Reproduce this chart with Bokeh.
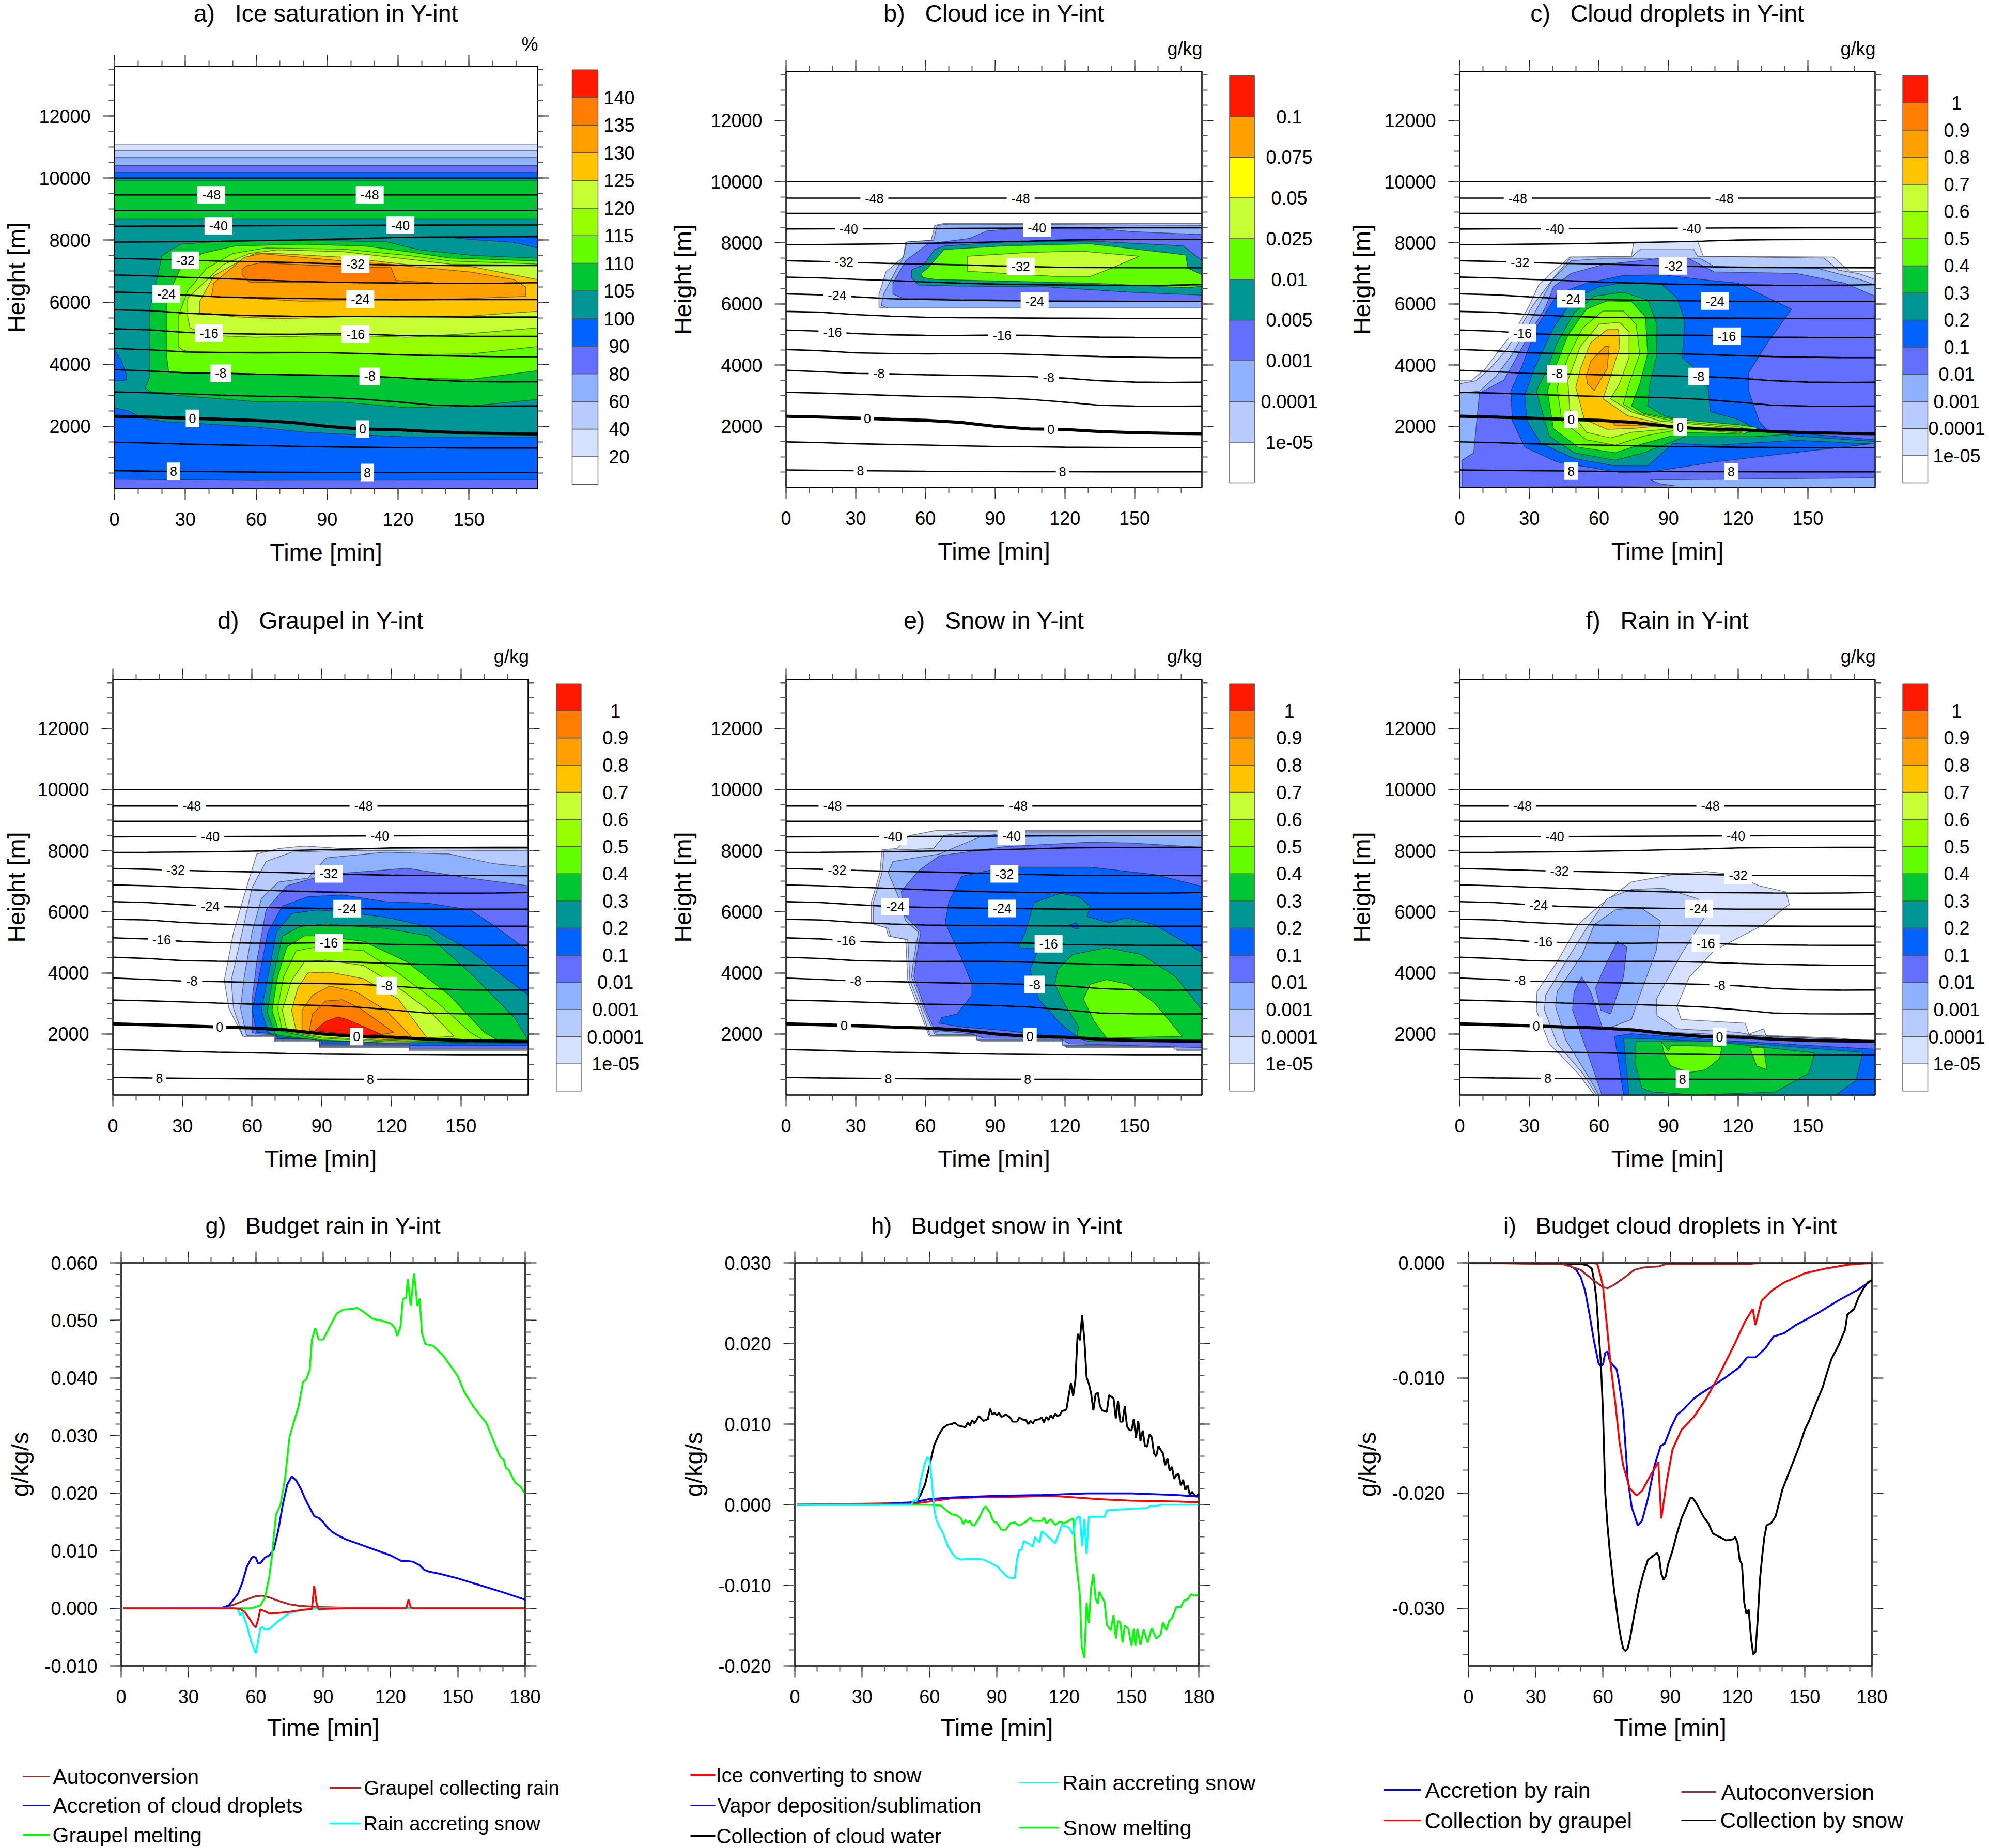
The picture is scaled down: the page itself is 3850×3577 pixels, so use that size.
from bokeh.plotting import figure
from bokeh.layouts import row, column
from bokeh.models import (Range1d, LinearAxis, FixedTicker, PrintfTickFormatter, ColumnDataSource,
                          LabelSet, CustomLabelingPolicy)
from bokeh.core.properties import value
from bokeh.embed import file_html
from bokeh.resources import INLINE
import numpy as np

FONT = "Liberation Sans"

# ------------------------------------------------------------------ colours
CMAP15 = ["#FFFFFF", "#D5E1FF", "#B8CBFF", "#8EB2FF", "#6370FF", "#0063FF", "#009696", "#00C633",
          "#63FF00", "#96FF00", "#C6FF33", "#FFC600", "#FFA000", "#FF7D00", "#FF1900"]
CMAP10 = ["#FFFFFF", "#B8CBFF", "#8EB2FF", "#6370FF", "#009696", "#63FF00", "#C6FF33", "#FFFF00",
          "#FFA000", "#FF1900"]
LEVELS_A = ["20", "40", "60", "80", "90", "100", "105", "110", "115", "120", "125", "130", "135", "140"]
LEVELS_B = ["1e-05", "0.0001", "0.001", "0.005", "0.01", "0.025", "0.05", "0.075", "0.1"]
LEVELS_Q = ["1e-05", "0.0001", "0.001", "0.01", "0.1", "0.2", "0.3", "0.4", "0.5", "0.6", "0.7", "0.8", "0.9", "1"]

# ------------------------------------------------------------------ isotherms (height in m)
ISO_T = [0, 15, 30, 45, 60, 75, 90, 105, 120, 135, 150, 165, 179]
ISO_M52 = [10000] * 13
ISO_M48 = [9460] * 13
ISO_M44 = [8960] * 13
ISO_M40 = [8450, 8455, 8455, 8460, 8465, 8470, 8475, 8480, 8485, 8488, 8490, 8490, 8490]
ISO_M36 = [7940, 7945, 7955, 7965, 7985, 8000, 8030, 8055, 8090, 8100, 8105, 8110, 8110]
ISO_M32 = [7415, 7390, 7355, 7325, 7305, 7280, 7245, 7220, 7195, 7190, 7185, 7185, 7183]
ISO_M28 = [6878, 6850, 6805, 6765, 6720, 6680, 6650, 6630, 6622, 6615, 6610, 6615, 6630]
ISO_M24 = [6330, 6300, 6232, 6170, 6145, 6125, 6110, 6100, 6085, 6085, 6085, 6085, 6085]
ISO_M20 = [5755, 5730, 5650, 5600, 5565, 5550, 5545, 5540, 5535, 5530, 5525, 5525, 5525]
ISO_M16 = [5146, 5110, 5030, 4990, 4975, 4970, 4985, 4975, 4930, 4915, 4905, 4900, 4902]
ISO_M12 = [4510, 4470, 4400, 4380, 4370, 4375, 4375, 4350, 4310, 4280, 4260, 4245, 4245]
ISO_M8 = [3830, 3785, 3730, 3715, 3685, 3665, 3650, 3625, 3575, 3490, 3445, 3435, 3440]
ISO_M4 = [3110, 3085, 3050, 3010, 2975, 2960, 2930, 2880, 2790, 2685, 2660, 2655, 2658]
ISO_0 = [2330, 2300, 2268, 2230, 2195, 2130, 2000, 1915, 1895, 1830, 1790, 1770, 1756]
ISO_P4 = [1490, 1465, 1430, 1405, 1385, 1360, 1340, 1330, 1315, 1310, 1305, 1305, 1305]
ISO_P8 = [575, 560, 550, 540, 530, 525, 520, 515, 515, 512, 512, 512, 512]
ISO_THIN = [ISO_M52, ISO_M48, ISO_M44, ISO_M40, ISO_M36, ISO_M32, ISO_M28, ISO_M24, ISO_M20, ISO_M16,
            ISO_M12, ISO_M8, ISO_M4, ISO_P4, ISO_P8]
LBL_NAMES = ["-48", "-40", "-32", "-24", "-16", "-8", "0", "8"]
LBL_ISO = [ISO_M48, ISO_M40, ISO_M32, ISO_M24, ISO_M16, ISO_M8, ISO_0, ISO_P8]
LBL_A = [(41, 108), (44, 121), (30, 102), (22, 104), (40, 102), (45, 108), (33, 105), (25, 107)]
LBL_B = [(38, 101), (27, 108), (25, 101), (22, 107), (20, 93), (40, 113), (35, 114), (32, 119)]
LBL_C = [(25, 114), (41, 100), (26, 92), (48, 110), (27, 115), (42, 103), (48, 95), (48, 117)]
LBL_D = [(34, 108), (42, 115), (27, 93), (42, 101), (21, 93), (34, 118), (46, 105), (20, 111)]
LBL_E = [(20, 100), (46, 97), (22, 94), (47, 93), (26, 113), (30, 107), (25, 105), (44, 104)]
LBL_F = [(27, 108), (41, 119), (43, 120), (34, 103), (36, 106), (26, 112), (33, 112), (38, 96)]

# ------------------------------------------------------------------ panel a: contour regions (min, m)
A_L20 = [(0, 0), (179, 0), (179, 11100), (0, 11100)]
A_L40 = [(0, 0), (179, 0), (179, 10890), (0, 10890)]
A_L60 = [(0, 0), (179, 0), (179, 10680), (0, 10680)]
A_L80 = [(0, 0), (179, 0), (179, 10410), (0, 10410)]
A_L90 = [(0, 300), (30, 280), (60, 260), (179, 270), (179, 10200), (0, 10200)]
A_L100 = [(0, 2600), (6, 2500), (12, 2260), (22, 2150), (45, 2050), (60, 1980), (80, 1820), (100, 1740),
          (125, 1660), (179, 1660), (179, 10000), (0, 10000)]
A_H1 = [(0, 4480), (3, 4100), (5, 3700), (5, 3500), (3, 3470), (0, 3470)]
A_H2 = [(144, 8070), (179, 8145), (179, 7750), (169, 7930), (151, 8020)]
A_L105A = [(0, 8690), (179, 8690), (179, 9930), (0, 9930)]
A_L105B = [(13, 3250), (15, 3600), (15, 5800), (19, 7090), (20, 7500), (28, 7870), (42, 7950), (79, 8000),
           (115, 7950), (129, 7690), (151, 7510), (179, 7420), (179, 2870), (151, 2660), (124, 2600),
           (97, 2780), (60, 2800), (33, 2960), (16, 3080)]
A_L110 = [(23, 3740), (22, 4335), (22, 6130), (28, 7090), (37, 7570), (51, 7810), (79, 7870), (106, 7810),
          (124, 7630), (142, 7425), (179, 7330), (179, 3800), (151, 3520), (124, 3560), (97, 3620), (60, 3680),
          (28, 3740)]
A_L115 = [(27, 4575), (27, 5530), (31, 6370), (39, 7090), (50, 7570), (64, 7750), (97, 7710), (124, 7510),
          (142, 7330), (179, 7230), (179, 4575), (151, 4335), (124, 4310), (79, 4395), (33, 4395), (29, 4455)]
A_L120 = [(31, 5530), (31, 6130), (36, 6490), (46, 7210), (57, 7570), (69, 7690), (97, 7630), (124, 7390),
          (142, 7230), (179, 7185), (179, 5175), (151, 4995), (124, 4875), (97, 4935), (60, 4875), (39, 4935),
          (32, 5175)]
A_L125 = [(36, 5650), (36, 6010), (42, 6850), (53, 7330), (60, 7590), (69, 7570), (97, 7450), (124, 7210),
          (151, 7150), (179, 6730), (179, 5710), (151, 5560), (124, 5530), (97, 5530), (69, 5470), (51, 5530),
          (39, 5650)]
A_L130 = [(41, 6190), (42, 6610), (55, 7450), (62, 7570), (97, 7330), (118, 7210), (151, 6970), (169, 6730),
          (174, 6490), (174, 6190), (133, 6070), (79, 6035)]
A_L135 = [(54, 7060), (56, 7180), (62, 7270), (97, 7150), (117, 7115), (119, 6705), (138, 6610), (57, 6650),
          (54, 6890)]
PANEL_A = [(1, [A_L20]), (2, [A_L40]), (3, [A_L60]), (4, [A_L80]), (5, [A_L90]), (6, [A_L100]), (5, [A_H1, A_H2]),
           (7, [A_L105A, A_L105B]), (8, [A_L110]), (9, [A_L115]), (10, [A_L120]), (11, [A_L125]), (12, [A_L130]),
           (13, [A_L135])]

# ------------------------------------------------------------------ panel b
B_L1 = [(40, 5890), (40, 6320), (43, 7050), (50.5, 7535), (51.5, 8025), (62.5, 8085), (64, 8570), (68, 8635),
        (179, 8635), (179, 5865), (42, 5865)]
B_L2 = [(41, 5950), (42, 6320), (47, 7050), (50.5, 7535), (52, 8025), (63.5, 8085), (65, 8570), (70, 8610),
        (179, 8570), (179, 5865), (44, 5865)]
B_L3 = [(46, 6320), (46, 6680), (51.5, 7415), (61, 7965), (79, 8145), (86.5, 8390), (103, 8490), (131, 8490),
        (149, 8365), (179, 8270), (179, 6075), (94, 6130), (50, 6195)]
B_L4 = [(54, 6865), (54, 7110), (59, 7270), (64, 7780), (68, 7900), (94, 8025), (131, 8060), (171, 7900),
        (179, 7415), (179, 6290), (149, 6380), (112, 6560), (75, 6585), (57, 6620)]
B_L5 = [(58, 6990), (61, 7170), (68, 7780), (94, 7900), (131, 7965), (172, 7600), (173, 7170), (179, 6950),
        (179, 6585), (173, 6535), (131, 6680), (94, 6745), (64, 6805), (59, 6865)]
B_L6 = [(78, 7560), (103, 7680), (127, 7730), (152, 7560), (140, 7170), (131, 6900), (116, 6900), (78, 7070)]
PANEL_B = [(1, [B_L1]), (2, [B_L2]), (3, [B_L3]), (4, [B_L4]), (5, [B_L5]), (6, [B_L6])]

# ------------------------------------------------------------------ panel c
C_L1 = [(0, 0), (0, 3490), (5, 3490), (11, 3880), (17, 4490), (24.5, 5220), (30, 5950), (34, 6620), (40, 7050),
        (47.5, 7535), (74, 7560), (75, 8025), (102.5, 8050), (105, 7560), (161, 7535), (168, 7070), (179, 7070),
        (179, 0)]
C_L2 = [(0, 0), (0, 3390), (7, 3490), (13, 3880), (20, 4490), (26, 5220), (31.5, 5950), (37, 6500), (42, 7000),
        (48, 7535), (74, 7535), (78, 7800), (100.7, 7800), (102.5, 7560), (157, 7500), (163, 7110), (172, 6990),
        (179, 6800), (179, 0)]
C_L3 = [(0, 0), (0, 3085), (8.5, 3150), (15.6, 3630), (22.7, 4365), (29, 5220), (34, 5950), (40, 6800), (48, 7415),
        (60, 7475), (104, 7475), (109.6, 7230), (154, 7170), (172.5, 6800), (179, 6620), (179, 0)]
C_L4 = [(1, 0), (1, 890), (6, 1130), (8.5, 3085), (19, 3510), (24.5, 4245), (31.5, 5220), (37, 5890), (40.4, 6560),
        (48, 7000), (62, 7290), (85, 7475), (99, 7475), (109.6, 7050), (145, 7000), (166, 6680), (179, 6255),
        (179, 317), (127, 280), (82, 245), (86.5, 120), (93, 50)]
C_L5 = [(22, 3150), (27, 4000), (33, 5220), (42, 6320), (54.6, 6680), (70.5, 6930), (88, 6950), (104, 6800),
        (120, 6680), (143, 5830), (132.6, 4730), (124.6, 3755), (124.6, 3150), (129, 2170), (132.6, 1865),
        (179, 1560), (179, 1440), (136, 1070), (109.6, 830), (81, 490), (69, 490), (42, 830), (28, 1320),
        (22.7, 2170)]
C_L6 = [(28, 3025), (32.5, 3940), (40.4, 5220), (49.3, 6195), (60, 6560), (72, 6720), (86.5, 6680), (93.6, 6195),
        (97, 5465), (96, 4245), (100.7, 3940), (107, 3270), (108, 2475), (120, 2230), (129, 1865), (145, 1680),
        (179, 1500), (179, 1420), (145, 1540), (110, 1380), (92, 1440), (81, 710), (67, 710), (49.3, 950),
        (35, 1440), (29, 2170)]
C_L7 = [(33, 3150), (37, 3755), (42, 4730), (49.3, 5710), (58, 6255), (70.5, 6380), (81, 6130), (85, 5340),
        (84.7, 4245), (82, 3390), (81, 2660), (88, 2350), (97, 2170), (120, 2050), (132.6, 1805), (143, 1745),
        (127, 1660), (97, 1660), (79.4, 1135), (67, 890), (49.3, 1135), (38.6, 1680)]
C_L8 = [(37.8, 3150), (41.3, 3940), (46.6, 4975), (54.6, 5830), (63.5, 6100), (74, 6075), (80, 5585), (81, 4365),
        (77.6, 3390), (74, 2660), (79.4, 2415), (92, 2230), (120, 2050), (129, 1950), (122, 1745), (97, 1805),
        (79.4, 1440), (67, 1135), (51, 1320), (40.4, 1925)]
C_L9 = [(42, 3270), (46.6, 4245), (53, 5220), (61.7, 5770), (70.5, 5770), (76, 5340), (77.6, 4365), (73, 3390),
        (70.5, 2720), (77.6, 2415), (92, 2170), (120, 1990), (126, 1865), (120, 1780), (97, 1925), (79.4, 1680),
        (67, 1380), (54.6, 1560), (44, 2170)]
C_L10 = [(46.6, 3510), (52, 4610), (60, 5340), (68.8, 5400), (73, 5100), (73, 4245), (68.8, 3390), (65, 2900),
         (74, 2475), (86.5, 2170), (120, 1930), (125.5, 1805), (109, 1865), (92, 1925), (74, 1805), (65, 1620),
         (54.6, 1805), (47.4, 2535)]
C_L11 = [(50, 3270), (52, 3880), (56.4, 4730), (63.5, 5160), (68.4, 5160), (69, 4610), (65, 3630), (61.7, 2900),
         (72.3, 2350), (85.6, 2110), (88, 2025), (74, 1925), (63.5, 1900), (53.7, 2230)]
C_L12A = [(54.6, 3630), (56.4, 4120), (62.6, 4610), (64.4, 4610), (63.5, 3880), (58, 3170), (55, 3390)]
C_L12B = [(66, 2110), (86.5, 2110), (86.5, 2010), (67, 2025)]
PANEL_C = [(1, [C_L1]), (2, [C_L2]), (3, [C_L3]), (4, [C_L4]), (5, [C_L5]), (6, [C_L6]), (7, [C_L7]), (8, [C_L8]),
           (9, [C_L9]), (10, [C_L10]), (11, [C_L11]), (12, [C_L12A, C_L12B])]

# ------------------------------------------------------------------ panel d
D_L1 = [(56, 1925), (50, 2840), (48, 3750), (52, 5330), (57.6, 6790), (62, 7890), (71.4, 8070), (82.5, 8155),
        (99, 8070), (179, 8070), (179, 1440), (127.7, 1440), (127.7, 1560), (89, 1560), (89, 1745), (69.6, 1745),
        (69.6, 1925)]
D_L2 = [(56, 1925), (52, 2840), (51, 3750), (55.7, 5330), (60, 6790), (66, 7645), (77, 7950), (99, 8010),
        (136, 7985), (179, 8010), (179, 1470), (128, 1470), (128, 1590), (89, 1590), (89, 1775), (70, 1775),
        (70, 1925)]
D_L3 = [(57.6, 1950), (55, 2840), (56.6, 3870), (60, 5330), (64, 6430), (71.4, 6975), (84, 7100), (92, 7765),
        (117.5, 7950), (145, 7890), (163.6, 7580), (179, 7460), (179, 1500), (128, 1500), (128, 1620), (89, 1620),
        (89, 1800), (70, 1800), (70, 1950)]
D_L4 = [(60, 2050), (60, 3140), (62, 4360), (66, 6060), (75, 6850), (92, 7220), (126.7, 7425), (154, 7100),
        (179, 6850), (179, 1530), (128, 1530), (128, 1660), (89, 1660), (89, 1830), (70, 1830), (70, 1980), (62, 2000)]
D_L5 = [(62, 2050), (60, 2780), (63, 3870), (66.8, 5330), (73, 6185), (84, 6490), (99, 6550), (117.5, 6330),
        (136, 6280), (154, 6060), (163.6, 5580), (179, 4725), (179, 1620), (128, 1620), (128, 1700), (90, 1700),
        (89, 1850), (71, 1850), (70, 2000)]
D_L6 = [(66.8, 2050), (64, 2780), (66.8, 3870), (70.5, 5330), (77, 5940), (88, 6060), (99, 6000), (117.5, 5820),
        (136, 5515), (154, 4725), (179, 3265), (179, 1700), (154, 1680), (136, 1745), (99, 1760), (72, 1890)]
D_L7 = [(70, 2000), (66.5, 2700), (69, 3870), (73.2, 5210), (80.6, 5515), (91.7, 5600), (117.5, 5455), (136, 5210),
        (154, 3995), (173, 2535), (179, 1780), (154, 1720), (117, 1730), (90, 1780), (72, 1950)]
D_L8 = [(71.4, 2110), (68.6, 2780), (71, 3870), (75, 4845), (82.5, 5210), (90, 5210), (108, 5030), (126.7, 4360),
        (145, 3265), (160, 2050), (167, 1745), (117.5, 1710), (90, 1805)]
D_L9 = [(73, 2110), (71, 2840), (73.6, 3870), (79, 4725), (88, 4845), (108, 4725), (123, 3995), (140, 3020),
        (154, 2050), (160, 1780), (117.5, 1745), (90, 1865)]
D_L10 = [(75, 2110), (73, 2780), (77, 3750), (82.5, 4360), (91.7, 4420), (108, 4240), (121, 3630), (136, 2780),
         (147, 1925), (117.5, 1780), (90, 1900)]
D_L11 = [(79, 2110), (77, 2780), (79.7, 3510), (84, 3995), (93.5, 4020), (108, 3810), (123, 3140), (136, 1805),
         (117.5, 1805), (90, 1990)]
D_L12 = [(81.5, 2110), (81.5, 2780), (86, 3265), (93.5, 3570), (104.6, 3385), (117.5, 2780), (128.6, 1925),
         (112, 1865), (90, 2050)]
D_L13 = [(84.7, 2110), (86, 2655), (91.7, 3080), (99, 3120), (106.5, 2840), (121, 2050), (112, 1925), (93.5, 2050)]
D_L14 = [(87, 2110), (91.7, 2410), (97, 2560), (101, 2475), (115.7, 1990), (108, 1950), (93.5, 2050)]
PANEL_D = [(1, [D_L1]), (2, [D_L2]), (3, [D_L3]), (4, [D_L4]), (5, [D_L5]), (6, [D_L6]), (7, [D_L7]), (8, [D_L8]),
           (9, [D_L9]), (10, [D_L10]), (11, [D_L11]), (12, [D_L12]), (13, [D_L13]), (14, [D_L14])]

# ------------------------------------------------------------------ panel e
E_L1 = [(61.6, 1925), (57, 2840), (52.4, 3750), (51.5, 5090), (44, 5210), (43, 5515), (36.7, 5640), (36.7, 6305),
        (40.4, 7280), (41.3, 8035), (47.8, 8070), (53.3, 8495), (64.4, 8655), (179, 8655), (179, 1440), (168.6, 1440),
        (168.6, 1560), (120.7, 1560), (120.7, 1745), (83.8, 1745), (83.8, 1925)]
E_L2 = [(62, 1950), (58, 2840), (53.3, 3750), (52.4, 5090), (45, 5190), (44, 5455), (37.6, 5600), (37.6, 6305),
        (41.3, 7280), (42.2, 8010), (63.5, 8070), (68, 8495), (79, 8620), (179, 8620), (179, 1470), (168, 1470),
        (168, 1590), (120, 1590), (120, 1775), (83, 1775), (83, 1950)]
E_L3 = [(64, 1990), (59, 2840), (54, 3870), (55, 4480), (57, 5330), (51.5, 5700), (48.7, 6430), (44, 7280),
        (46, 7645), (66, 7890), (83, 8435), (94, 8580), (179, 8580), (179, 1500), (167, 1500), (167, 1620),
        (119, 1620), (119, 1800), (82, 1800), (82, 1980), (65, 1980)]
E_L4 = [(64.4, 2050), (59.8, 2840), (55, 3870), (56, 4480), (58, 5330), (50.6, 5940), (49.6, 6670), (57, 7340),
        (66, 7830), (94, 8130), (131, 8280), (149, 8250), (179, 8110), (179, 1550), (140, 1640), (122, 1680),
        (118, 1850), (85, 1860), (80, 2000), (66, 2100)]
E_L5 = [(66, 2350), (67, 2535), (73.6, 2655), (80, 3265), (80, 3630), (75.5, 4480), (71.8, 5090), (68.5, 5640),
        (70, 6305), (75.5, 7160), (94, 7460), (131, 7460), (158.5, 7220), (179, 6830), (179, 1745), (140, 1745),
        (121.6, 1865), (94, 2110), (75.5, 2230)]
E_L6 = [(100, 4845), (103, 5330), (106.8, 6305), (118, 6600), (126, 6490), (131, 6185), (129.5, 5845), (139, 5640),
        (146.5, 5800), (158.5, 5580), (179, 4665), (179, 1805), (131, 1745), (126, 1865), (118, 2350), (108.7, 3140),
        (105, 4115), (108.7, 4785), (100.4, 4825)]
E_H = [(122, 5570), (125, 5640), (126, 5430), (123.5, 5470)]
E_L7 = [(115.7, 3630), (117, 4115), (123.4, 4600), (138, 4820), (153, 4600), (167.7, 3870), (179, 2780), (179, 1805),
        (131, 1745), (125, 1865), (126, 2230), (120, 2960)]
E_L8 = [(128, 3140), (131, 3630), (138, 3775), (147, 3630), (158.5, 3020), (170.5, 1925), (138, 1865), (132.7, 2410)]
PANEL_E = [(1, [E_L1]), (2, [E_L2]), (3, [E_L3]), (4, [E_L4]), (5, [E_L5]), (6, [E_L6]), (5, [E_H]), (7, [E_L7]),
           (8, [E_L8])]

# ------------------------------------------------------------------ panel f
F_L1 = [(58, 0), (51, 710), (38.6, 1680), (33, 2780), (33.3, 3385), (42, 4360), (51, 5580), (60, 6185), (74, 6975),
        (92, 7220), (106, 7315), (118.6, 7220), (129, 6850), (140.6, 6650), (142, 6245), (131, 5580), (109.6, 4725),
        (99, 3870), (93.6, 2900), (95.4, 2475), (123, 2350), (124.6, 1990), (131, 2170), (132, 1950), (163, 1865),
        (179, 1745), (179, 0)]
F_L2 = [(59, 0), (53, 710), (42, 1680), (36.5, 2780), (37, 3265), (45.7, 4360), (54.6, 5455), (63.5, 6430), (74, 6730),
        (88, 6770), (102.5, 6430), (106, 5880), (95.4, 4600), (84.8, 3140), (85, 2600), (93.6, 2170), (120, 2050),
        (127, 1950), (179, 1770), (179, 0)]
F_L3 = [(60, 0), (54.6, 710), (45.7, 1805), (41.3, 2900), (42, 3385), (52.8, 4600), (58, 5580), (67, 6060), (77.6, 6150),
        (86.5, 5700), (84.7, 4725), (77.6, 3265), (74, 2475), (63.5, 2170), (72, 2110), (179, 1770), (179, 0)]
F_L4A = [(61.3, 0), (53.7, 1680), (48.6, 2780), (49.3, 3385), (52.5, 3870), (56.4, 3385), (61.7, 2170), (70.5, 2110),
         (92, 2000), (127, 1865), (179, 1745), (179, 0)]
F_L4B = [(58.5, 3510), (63.5, 4360), (68, 5030), (72, 4845), (70.6, 3870), (65, 2655), (60.8, 2780)]
F_L5 = [(70.6, 0), (66.7, 1925), (74, 2010), (109.6, 1805), (179, 1500), (179, 0)]
F_L6 = [(73, 0), (70.6, 1865), (92, 1805), (127, 1680), (173.7, 1400), (170.7, 470), (162.8, 45), (162.8, 0)]
F_L7 = [(78.5, 225), (75.5, 1075), (76, 1745), (109.6, 1745), (153, 1380), (150.4, 710), (136, 100), (102.5, 0), (83, 100)]
F_L8A = [(87, 1745), (90, 1440), (91, 1625), (113, 1590), (112, 1200), (106, 830), (99, 735), (91, 955), (88.3, 1320)]
F_L8B = [(125, 1560), (131, 1560), (132.3, 830), (128, 955)]
PANEL_F = [(1, [F_L1]), (2, [F_L2]), (3, [F_L3]), (4, [F_L4A, F_L4B]), (5, [F_L5]), (6, [F_L6]), (7, [F_L7]),
           (8, [F_L8A, F_L8B])]

# ------------------------------------------------------------------ budget rain
G_MELT = [(1, 0), (58, 0), (62, .0005), (64, .0018), (66, .0055), (67, .0085), (69, .0163), (71, .018), (73, .0225),
          (75, .0297), (77, .0325), (79, .035), (81, .0393), (82.5, .0398), (84, .0414), (85, .0467), (86.5, .0487),
          (88, .0467), (90, .0467), (93, .049), (96, .0512), (99, .0519), (103, .052), (105, .0522), (108, .0515),
          (112, .0503), (116, .05), (120, .0495), (122, .0487), (123, .0473), (124.5, .049), (125.5, .0537), (127, .054),
          (127.7, .0572), (129, .0526), (130.5, .0582), (132, .0525), (133, .0538), (134, .0478), (135.5, .0459),
          (139, .0456), (143.5, .0439), (150, .0403), (153, .0375), (157, .035), (162.7, .0322), (167, .028), (169, .0262),
          (170.5, .0258), (171.4, .0244), (172.8, .024), (174, .023), (175.6, .0218), (177.8, .0212), (180, .0199)]
G_ACCR = [(1, 0), (45, .0001), (48, .0005), (50, .0015), (52, .0025), (54, .0045), (56, .0072), (58, .0087), (59, .009),
          (60, .0088), (61, .0078), (62, .0078), (64, .0088), (66, .0092), (68, .0102), (70, .0135), (72, .018), (74, .0215),
          (76, .0229), (78, .0222), (80, .0208), (82, .019), (84, .0175), (86, .016), (88, .0157), (90, .015), (92, .014),
          (94, .0133), (96, .0128), (100, .012), (105, .0113), (110, .0106), (115, .0099), (120, .0092), (123, .0086),
          (125, .0082), (128, .0082), (130, .0081), (131, .0079), (133, .0075), (135, .0067), (137, .0064), (142, .006),
          (150, .0052), (160, .004), (170, .0028), (180, .0015)]
G_AUTO = [(1, 0), (45, .0001), (50, .0006), (55, .0014), (60, .0021), (63, .0022), (66, .0019), (70, .0013), (75, .0007),
          (80, .0004), (85, .0003), (90, .0002), (100, .0001), (120, .0001), (130, 0), (180, 0)]
G_COLL = [(1, 0), (50, 0), (53, -.0001), (55, -.0006), (57, -.0017), (59, -.0029), (60, -.0033), (61, -.002), (62, -.0002),
          (64, -.0005), (66, -.0009), (70, -.0008), (75, -.0006), (80, -.0003), (85, -.0001), (86, .0039), (87, .001),
          (88, -.0002), (90, -.0001), (100, 0), (127, 0), (128, .0015), (129, .0002), (130, 0), (180, 0)]
G_RAIN = [(1, 0), (51, 0), (52, -.0002), (53, -.0012), (54, -.0007), (56, -.003), (58, -.0058), (60, -.0078), (61, -.0058),
          (62, -.0035), (63, -.0032), (64, -.0037), (66, -.0036), (70, -.0022), (75, -.0008), (80, -.0003), (85, -.0001),
          (87, 0), (180, 0)]

# ------------------------------------------------------------------ budget snow
H_COLL = [(1, 0), (52, .0001), (54, .0003), (56, .0012), (58, .0025), (60, .0048), (62, .0073), (64, .0086), (66, .0095),
          (68, .0099), (70, .01), (71, .0102), (73, .0098), (76, .0096), (77, .0102), (78, .0098), (79, .0105), (80, .0101),
          (81, .0105), (82, .011), (84, .0104), (86, .0106), (87, .0119), (88, .0112), (89, .0114), (90, .0111), (91, .0114),
          (92, .0109), (93, .011), (94, .0112), (96, .0108), (97, .0103), (99, .0103), (100, .0108), (102, .0105), (103, .0105),
          (104, .01), (105, .0104), (106, .0101), (107, .0105), (109, .0106), (110, .0108), (111, .0102), (112, .0109),
          (113, .0105), (114, .0111), (115, .0107), (116, .0113), (117, .011), (118, .0111), (119, .0116), (120, .0117),
          (121, .0118), (122, .0135), (123, .0151), (124, .0135), (125, .0155), (126, .0212), (127, .0204), (128, .0235),
          (129, .0205), (130, .0158), (131, .015), (132, .0138), (133, .0117), (134, .0137), (135, .0139), (136, .0122),
          (137, .0117), (138, .0116), (139, .0115), (140, .0136), (141, .0134), (142, .0132), (143, .0107), (144, .0129),
          (145, .0103), (146, .0103), (147, .0122), (148, .0097), (149, .0093), (150, .0092), (151, .0106), (152, .0083),
          (153, .0104), (154, .0079), (155, .0092), (156, .0073), (157, .0072), (158, .0087), (159, .0084), (160, .0064),
          (161, .006), (162, .0073), (163, .0068), (164, .0064), (165, .0049), (166, .0057), (167, .0042), (168, .0047),
          (169, .0032), (170, .0037), (171, .0038), (172, .0024), (173, .0031), (174, .0018), (175, .0024), (176, .0012),
          (177, .0016), (178, .0012), (179, .001), (180, .0014)]
H_ICE = [(1, 0), (50, .0002), (55, .0002), (60, .0004), (65, .0006), (70, .0008), (80, .0009), (100, .001), (115, .0011),
         (125, .0009), (135, .0007), (150, .0005), (170, .0004), (180, .0003)]
H_VAP = [(1, 0), (38, 0), (45, .0002), (53, .0003), (60, .0007), (70, .0009), (90, .0011), (110, .0012), (130, .0014),
         (150, .0014), (170, .0012), (180, .001)]
H_RAIN = [(1, 0), (52, 0), (53, .0006), (54, .0004), (55, .001), (56, .003), (58, .0052), (59, .0059), (60, .0056), (61, .003),
          (62, -.0003), (63, -.0018), (64, -.0025), (66, -.0035), (68, -.005), (70, -.006), (72, -.0066), (74, -.0068),
          (80, -.0067), (84, -.0068), (87, -.0072), (90, -.0076), (93, -.0085), (95, -.009), (97, -.0091), (98, -.0091),
          (99, -.0068), (100, -.0056), (101, -.0056), (102, -.0045), (104, -.0048), (106, -.0052), (107, -.004), (109, -.0047),
          (110, -.0033), (113, -.004), (116, -.0048), (118, -.0033), (119, -.0025), (122, -.0028), (124, -.0037), (125, -.002),
          (126, -.0015), (127, -.0015), (128, -.0051), (129, -.0018), (130, -.0061), (131, -.0015), (138, -.0015), (139, -.0007),
          (150, -.0005), (157, -.0004), (158, -.0002), (162, -.0001), (163, 0), (180, 0)]
H_MELT = [(1, 0), (60, 0), (65, -.0001), (68, -.0008), (70, -.0012), (72, -.0013), (74, -.0017), (75, -.0024), (76, -.0019),
          (77, -.0022), (78, -.002), (79, -.0025), (80, -.0026), (82, -.0017), (84, -.0005), (85, -.0002), (87, -.001),
          (88, -.0018), (89, -.0022), (90, -.0022), (92, -.0031), (94, -.0031), (96, -.0023), (98, -.0022), (100, -.0026),
          (103, -.0021), (105, -.0016), (106, -.002), (110, -.002), (111, -.0016), (112, -.0023), (114, -.0018), (116, -.0025),
          (118, -.0021), (120, -.0023), (122, -.002), (124, -.0017), (125, -.0062), (126, -.0088), (127, -.0113), (127.8, -.0176),
          (129, -.019), (130, -.0122), (131, -.0147), (132, -.0103), (133, -.0086), (134, -.0116), (135, -.0123), (135.7, -.0108),
          (138, -.0121), (139, -.0149), (140.7, -.0156), (142, -.0137), (143, -.0166), (144, -.0144), (145, -.0146), (146, -.0171),
          (147, -.015), (148.6, -.0154), (150, -.0175), (151, -.0154), (151.7, -.0175), (152.6, -.0154), (154, -.0174),
          (155.4, -.0155), (157.2, -.0171), (159, -.0153), (161, -.0166), (163, -.0161), (164, -.0146), (165.5, -.0156),
          (166.8, -.0144), (168, -.0141), (170, -.0127), (172, -.0127), (173.4, -.0119), (175.2, -.0117), (176.5, -.0111),
          (178.4, -.0113), (180, -.0111)]

# ------------------------------------------------------------------ budget cloud droplets
I_ACCR = [(1, 0), (40, 0), (45, -.0002), (48, -.0006), (50, -.0012), (52, -.0024), (54, -.0045), (56, -.0068), (58, -.0087),
          (59, -.009), (60, -.0088), (61, -.0078), (62, -.0077), (63, -.0085), (64, -.0088), (66, -.0092), (67, -.0102),
          (68, -.0115), (69, -.013), (71, -.0187), (72.8, -.0212), (75.5, -.0228), (77.4, -.0224), (80, -.0205), (83, -.0176),
          (85.7, -.0159), (87.5, -.0157), (90.3, -.0143), (93, -.0132), (96, -.0127), (100.4, -.0118), (104, -.0113),
          (109.6, -.0106), (115, -.0099), (120.6, -.0091), (124.3, -.0082), (128, -.0082), (129.8, -.0079), (132.5, -.0074),
          (136, -.0064), (140.8, -.0061), (146, -.0054), (155.5, -.0044), (164.7, -.0033), (174, -.0023), (180, -.0015)]
I_GRAU = [(1, 0), (56, 0), (57.5, -.0001), (59, -.0012), (60, -.0021), (61.8, -.0056), (63.6, -.0092), (65.4, -.012),
          (67.3, -.0155), (69, -.0176), (72, -.0196), (75, -.0202), (77.4, -.0198), (81, -.0185), (84.7, -.0173), (86, -.0222),
          (88.4, -.019), (91, -.0162), (95, -.0145), (100.4, -.0134), (106, -.0118), (111.4, -.0099), (118.8, -.007),
          (123.3, -.0051), (126.8, -.004), (128, -.0054), (130.7, -.0033), (135.3, -.0024), (140.8, -.0017), (150, -.0009),
          (159, -.0005), (170, -.00014), (180, 0)]
I_AUTO = [(1, 0), (42, -.0001), (50, -.0006), (55, -.0014), (60, -.0021), (62, -.0022), (65, -.0019), (70, -.0012), (74, -.0006),
          (78, -.0004), (85, -.0003), (88, -.0001), (90, -.0001), (125, -.0001), (130, 0), (180, 0)]
I_SNOW = [(1, 0), (50, -.0001), (53, -.0002), (55, -.0005), (56, -.0015), (57, -.003), (58, -.0058), (59, -.0085), (60, -.013),
          (61, -.02), (62, -.0228), (63, -.025), (65, -.0285), (67, -.0315), (68, -.0326), (69, -.0335), (70, -.0337), (71, -.0335),
          (72, -.0327), (74, -.0305), (76, -.0285), (78, -.027), (80, -.0258), (82, -.0255), (84, -.0252), (85, -.0255), (86, -.027),
          (87, -.0275), (88, -.0272), (89, -.0262), (91, -.025), (93, -.0235), (95, -.0222), (97, -.0213), (99, -.0204), (100, -.0204),
          (102, -.021), (105, -.0221), (107, -.0226), (109, -.0235), (112, -.0238), (115, -.0241), (118, -.024), (119, -.0238),
          (120, -.0243), (121, -.0258), (122, -.0262), (123, -.0295), (124, -.0305), (125, -.0301), (126, -.0325), (127, -.034),
          (128, -.0338), (129, -.031), (130, -.0275), (131, -.0255), (132, -.0238), (133, -.0228), (135, -.0226), (137, -.022),
          (139, -.0205), (140, -.0197), (142, -.0187), (145, -.0172), (148, -.0157), (150, -.0145), (152, -.0137), (155, -.0122),
          (158, -.0108), (160, -.0095), (162, -.0083), (165, -.0072), (168, -.0058), (169, -.0045), (172, -.004), (174, -.003),
          (176, -.0023), (178, -.0017), (180, -.0015)]

BROWN, BLUE, GREEN, RED, CYAN, BLACK = "#A52A2A", "#0000FF", "#00FF00", "#FF0000", "#00FFFF", "#000000"

# ------------------------------------------------------------------ legends
LEG_G = [("Autoconversion", BROWN), ("Accretion of cloud droplets", BLUE), ("Graupel melting", GREEN),
         ("Graupel collecting rain", RED), ("Rain accreting snow", CYAN)]
LEG_H = [("Ice converting to snow", RED), ("Vapor deposition/sublimation", BLUE), ("Collection of cloud water", BLACK),
         ("Rain accreting snow", CYAN), ("Snow melting", GREEN)]
LEG_I = [("Accretion by rain", BLUE), ("Collection by graupel", RED), ("Autoconversion", BROWN), ("Collection by snow", BLACK)]

# ------------------------------------------------------------------ layout (page pixels)
COLS = [0, 1280, 2600, 3850]
ROWS = [0, 1150, 2330, 3400, 3577]
X_MAJOR = [0, 30, 60, 90, 120, 150, 180]
X_MINOR = [v for v in range(0, 181, 10)]
SP = "\u00a0\u00a0\u00a0"


def style_axis(ax, labels=True):
    ax.axis_line_color = "black"
    ax.axis_line_width = 2
    ax.major_tick_line_color = "#222222"
    ax.major_tick_line_width = 2
    ax.minor_tick_line_color = "#555555"
    ax.minor_tick_line_width = 2
    ax.major_tick_in = 0
    ax.minor_tick_in = 0
    ax.major_tick_out = 22
    ax.minor_tick_out = 11
    if labels:
        ax.major_label_text_font = FONT
        ax.major_label_text_font_size = "36px"
        ax.major_label_text_color = "black"
        ax.major_label_standoff = 24
        ax.axis_label_text_font = FONT
        ax.axis_label_text_font_size = "47px"
        ax.axis_label_text_font_style = "normal"
        ax.axis_label_text_color = "black"
    else:
        ax.major_label_text_font_size = "0px"
        ax.major_label_standoff = 0
        ax.major_label_policy = CustomLabelingPolicy(code="return []")


def plain_figure(x0, x1, y0, y1):
    """A bare figure whose coordinates are page pixels (for strips, colour bars and legends)."""
    f = figure(width=int(round(x1 - x0)), height=int(round(y1 - y0)), x_range=Range1d(x0, x1), y_range=Range1d(y1, y0),
               toolbar_location=None, output_backend="svg", min_border=0, outline_line_color=None,
               x_axis_location=None, y_axis_location=None)
    f.grid.visible = False
    f.background_fill_color = None
    f.border_fill_color = None
    f.frame_align = False
    return f


def title_strip(col_left, col_right, row_top, strip_bottom, frame_mid, title, title_y, title_size, unit=None, unit_x=None, unit_y=None):
    s = plain_figure(col_left, col_right, row_top, strip_bottom)
    s.text([frame_mid], [title_y], text=[title], text_font=value(FONT), text_font_size=value(title_size),
           text_align="center", text_baseline="middle", text_color="black")
    if unit:
        s.text([unit_x], [unit_y], text=[unit], text_font=value(FONT), text_font_size=value("36px"),
               text_align="right", text_baseline="middle", text_color="black")
    return s


def base_figure(col_left, col_right, row_top, row_bottom, fl, fr, ft, fb, xr, yr,
                yticks, yminor, ylabel, xticks, fmt=None, ylab_standoff=25, xlab_standoff=21):
    p = figure(width=int(round(col_right - col_left)), height=int(round(row_bottom - row_top)),
               x_range=Range1d(*xr), y_range=Range1d(*yr), toolbar_location=None, output_backend="svg",
               min_border_left=int(round(fl - col_left)), min_border_right=int(round(col_right - fr)),
               min_border_top=int(round(ft - row_top)), min_border_bottom=int(round(row_bottom - fb)),
               x_axis_label="Time [min]", y_axis_label=ylabel)
    p.frame_align = False
    p.grid.visible = False
    p.background_fill_color = "white"
    p.border_fill_color = None
    p.outline_line_color = "black"
    p.outline_line_width = 2
    xt = FixedTicker(ticks=xticks, minor_ticks=X_MINOR)
    yt = FixedTicker(ticks=yticks, minor_ticks=yminor)
    p.xaxis.ticker = xt
    p.yaxis.ticker = yt
    style_axis(p.xaxis[0])
    style_axis(p.yaxis[0])
    p.xaxis.axis_label_standoff = xlab_standoff
    p.yaxis.axis_label_standoff = ylab_standoff
    if fmt:
        p.yaxis.formatter = PrintfTickFormatter(format=fmt)
    top = LinearAxis(ticker=xt)
    right = LinearAxis(ticker=yt)
    style_axis(top, False)
    style_axis(right, False)
    p.add_layout(top, "above")
    p.add_layout(right, "right")
    return p


def contour_panel(col_left, col_right, row_top, row_bottom, frame, cbar, title, title_y, unit, unit_y, regions, cmap, levels, lbl,
                  ylab_standoff):
    fl, fr, ft, fb = frame
    bar_l, bar_r, bar_t, bar_b, lab_x = cbar
    strip_bottom = int(round(ft)) - 23
    main_right = int(round(fr)) + 30
    ymax = 13600
    s = title_strip(col_left, col_right, row_top, strip_bottom, (fl + fr) / 2, title, title_y, "46.5px", unit, fr + 1, unit_y)
    p = base_figure(col_left, main_right, strip_bottom, row_bottom, fl, fr, ft, fb, (0, 179), (0, ymax),
                    list(range(2000, 12001, 2000)), list(range(500, 13501, 500)), "Height [m]",
                    [0, 30, 60, 90, 120, 150], ylab_standoff=ylab_standoff)
    for idx, polys in regions:
        xs = [[pt[0] for pt in poly] for poly in polys]
        ys = [[pt[1] for pt in poly] for poly in polys]
        p.patches(xs, ys, fill_color=cmap[idx], line_color="#1a1a1a", line_alpha=0.55, line_width=1.5)
    for iso in ISO_THIN:
        p.line(ISO_T, iso, line_color="black", line_width=2.6)
    p.line(ISO_T, ISO_0, line_color="black", line_width=6)
    xs, ys, txt, wd = [], [], [], []
    for name, iso, ts in zip(LBL_NAMES, LBL_ISO, lbl):
        for t in ts:
            xs.append(t)
            ys.append(float(np.interp(t, ISO_T, iso)))
            txt.append(name)
            wd.append(len(name) * 14 + 12)
    src = ColumnDataSource(dict(x=xs, y=ys, t=txt, w=wd))
    p.rect(x="x", y="y", width="w", height=34, width_units="screen", height_units="screen", source=src,
           fill_color="white", line_color=None)
    p.add_layout(LabelSet(x="x", y="y", text="t", source=src, text_font=value(FONT), text_font_size="25px",
                          text_align="center", text_baseline="middle", text_color="black"))

    c = plain_figure(main_right, col_right, strip_bottom, row_bottom)
    n = len(cmap)
    edges = np.linspace(bar_b, bar_t, n + 1)
    c.quad(left=[bar_l] * n, right=[bar_r] * n, bottom=edges[:-1], top=edges[1:], fill_color=cmap,
           line_color="#555555", line_width=1.5)
    c.text(x=[lab_x] * len(levels), y=edges[1:-1], text=levels, text_font=value(FONT), text_font_size="36px",
           text_align="center", text_baseline="middle", text_color="black")
    return column(s, row(p, c, spacing=0), spacing=0)


def budget_panel(col_left, col_right, frame, title, yr, yticks, yminor, series):
    fl, fr, ft, fb = frame
    strip_bottom = int(round(ft)) - 23
    s = title_strip(col_left, col_right, ROWS[2], strip_bottom, (fl + fr) / 2, title, 2371.5, "45px")
    p = base_figure(col_left, col_right, strip_bottom, ROWS[3], fl, fr, ft, fb, (0, 180), yr, yticks, yminor,
                    "g/kg/s", X_MAJOR, fmt="%.3f", ylab_standoff=18, xlab_standoff=17)
    for pts, color in series:
        p.line([a for a, _ in pts], [b for _, b in pts], line_color=color, line_width=3.6)
    return column(s, p, spacing=0)


ca = contour_panel(COLS[0], COLS[1], ROWS[0], ROWS[1], (221, 1040, 127.6, 944.8), (1107, 1157, 134.8, 936.9, 1198),
                   "a)" + SP + "Ice saturation in Y-int", 25, "%", 85, PANEL_A, CMAP15, LEVELS_A, LBL_A, 14)
cb = contour_panel(COLS[1], COLS[2], ROWS[0], ROWS[1], (1521, 2326, 137.6, 942.6), (2379.5, 2427.6, 146.3, 934, 2495),
                   "b)" + SP + "Cloud ice in Y-int", 25, "g/kg", 93.7, PANEL_B, CMAP10, LEVELS_B, LBL_B, 24)
cc = contour_panel(COLS[2], COLS[3], ROWS[0], ROWS[1], (2825, 3629, 137.6, 942.6), (3682.6, 3731, 146.3, 934, 3787),
                   "c)" + SP + "Cloud droplets in Y-int", 25, "g/kg", 93.7, PANEL_C, CMAP15, LEVELS_Q, LBL_C, 14)
cd = contour_panel(COLS[0], COLS[1], ROWS[1], ROWS[2], (218, 1022.4, 1314.9, 2119.1), (1076.3, 1124.4, 1322.8, 2111.2, 1190.7),
                   "d)" + SP + "Graupel in Y-int", 1200, "g/kg", 1269.5, PANEL_D, CMAP15, LEVELS_Q, LBL_D, 11)
ce = contour_panel(COLS[1], COLS[2], ROWS[1], ROWS[2], (1521, 2325.6, 1314.9, 2119.1), (2379.5, 2427.6, 1322.8, 2111.2, 2495),
                   "e)" + SP + "Snow in Y-int", 1200, "g/kg", 1269.5, PANEL_E, CMAP15, LEVELS_Q, LBL_E, 24)
cf = contour_panel(COLS[2], COLS[3], ROWS[1], ROWS[2], (2824.8, 3629.2, 1314.9, 2119.1), (3682.6, 3731, 1322.8, 2111.2, 3787),
                   "f)" + SP + "Rain in Y-int", 1200, "g/kg", 1269.5, PANEL_F, CMAP15, LEVELS_Q, LBL_F, 14)

MINOR_V = [round(-0.036 + 0.002 * i, 3) for i in range(0, 50)]
cg = budget_panel(COLS[0], COLS[1], (234.4, 1015.6, 2444.1, 3224.3), "g)" + SP + "Budget rain in Y-int", (-0.01, 0.06),
                  [-0.01, 0, 0.01, 0.02, 0.03, 0.04, 0.05, 0.06], MINOR_V,
                  [(G_AUTO, BROWN), (G_ACCR, BLUE), (G_MELT, GREEN), (G_RAIN, CYAN), (G_COLL, RED)])
ch = budget_panel(COLS[1], COLS[2], (1538.3, 2319.5, 2444.1, 3224.3), "h)" + SP + "Budget snow in Y-int", (-0.02, 0.03),
                  [-0.02, -0.01, 0, 0.01, 0.02, 0.03], MINOR_V,
                  [(H_COLL, BLACK), (H_ICE, RED), (H_VAP, BLUE), (H_MELT, GREEN), (H_RAIN, CYAN)])
ci = budget_panel(COLS[2], COLS[3], (2842.3, 3622.8, 2444.1, 3224.3), "i)" + SP + "Budget cloud droplets in Y-int", (-0.035, 0),
                  [-0.03, -0.02, -0.01, 0], MINOR_V,
                  [(I_ACCR, BLUE), (I_SNOW, BLACK), (I_GRAU, RED), (I_AUTO, BROWN)])

# legend strip, in page-pixel units
lg = plain_figure(COLS[0], COLS[3], ROWS[3], ROWS[4])
LEG_ROWS = [
    (LEG_G, [(44, 96, 102, 3438, 41), (44, 96, 102, 3494, 41), (44, 96, 101, 3551, 41), (638, 698, 704, 3460, 38), (638, 698, 703, 3529, 38)]),
    (LEG_H, [(1336, 1384, 1385, 3435, 40), (1336, 1384, 1388, 3494, 40), (1336, 1384, 1386, 3553, 40), (1972, 2049, 2056, 3450, 41.5), (1972, 2049, 2057, 3537, 41.5)]),
    (LEG_I, [(2678, 2750, 2758, 3464, 43), (2678, 2750, 2757, 3523, 43), (3254, 3321, 3331, 3468, 43), (3254, 3321, 3329, 3523, 42.5)]),
]
for entries, places in LEG_ROWS:
    for (label, color), (x0, x1, tx, y, fs) in zip(entries, places):
        lg.segment([x0], [y], [x1], [y], line_color=color, line_width=3)
        lg.text([tx], [y], text=[label], text_font=value(FONT), text_font_size=value(f"{fs}px"),
                text_align="left", text_baseline="middle", text_color="black")

layout = column(row(ca, cb, cc, spacing=0), row(cd, ce, cf, spacing=0), row(cg, ch, ci, spacing=0), lg, spacing=0)
open("out.html", "w").write(file_html(layout, INLINE))
